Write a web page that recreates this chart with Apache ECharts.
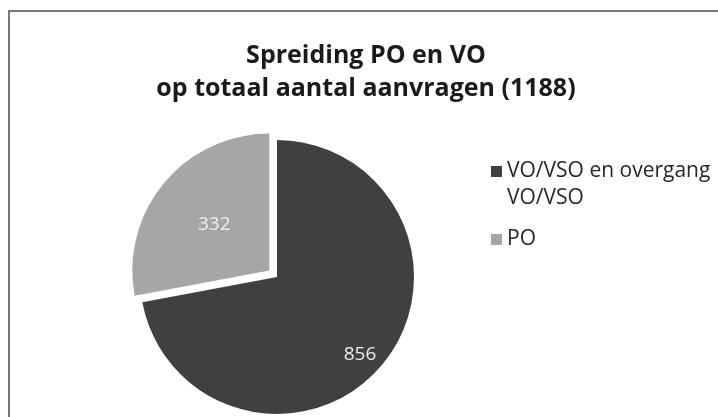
<!DOCTYPE html>
<html>
<head>
    <meta charset="utf-8">
    <script src="https://cdn.jsdelivr.net/npm/echarts@6/dist/echarts.min.js"></script>
    <style>
        html, body { margin: 0; padding: 0; background: #fff; }
    </style>
</head>
<body>
	<div id="main" style="width: 718px; height: 417px;"></div>
	<script type="text/javascript">
		// data
		var categories = ['VO/VSO en overgang\nVO/VSO', 'PO']
		var values = [856, 332]
		var sliceColors = ['#404040', '#a6a6a6']
		var titleText = 'Spreiding PO en VO\nop totaal aantal aanvragen (1188)'

		// where Excel put the data labels
		var labelPos = [[360, 355], [180, 208]]

		var pieData = []
		for (var i = 0; i < categories.length; i++) {
			pieData.push({
				name: categories[i],
				value: values[i],
				selected: i == 1,
				itemStyle: { color: sliceColors[i] }
			})
		}

		var myChart = echarts.init(document.getElementById('main'))
		var option = {
			animation: false,
			textStyle: { fontFamily: 'Open Sans' },
			title: {
				text: titleText,
				left: 366,
				top: 39,
				padding: 0,
				textAlign: 'center',
				textStyle: {
					fontFamily: 'Open Sans',
					fontSize: 25,
					fontWeight: 'bold',
					lineHeight: 33,
					color: '#1a1a1a'
				}
			},
			legend: {
				orient: 'vertical',
				left: 491,
				top: 131,
				padding: 0,
				itemWidth: 11,
				itemHeight: 11,
				itemGap: 14,
				icon: 'rect',
				selectedMode: false,
				data: categories,
				// blank line on top so the square sits next to the first line
				formatter: function (name) {
					return name.indexOf('\n') >= 0 ? '\n' + name : name
				},
				textStyle: {
					fontFamily: 'Open Sans',
					fontSize: 21,
					lineHeight: 27,
					color: '#262626'
				}
			},
			graphic: [{
				type: 'rect',
				shape: { x: 9, y: 11, width: 720, height: 420 },
				style: { fill: null, stroke: '#777', lineWidth: 2 },
				silent: true
			}],
			series: [{
				type: 'pie',
				center: [277, 277],
				radius: 137,
				startAngle: 90,
				clockwise: true,
				selectedMode: 'single',
				selectedOffset: 10,
				data: pieData,
				itemStyle: { borderWidth: 0 },
				emphasis: { disabled: true },
				label: {
					show: true,
					position: 'inside',
					formatter: '{c}',
					fontFamily: 'Open Sans',
					fontSize: 19,
					color: '#eeeeee'
				},
				labelLine: { show: false },
				labelLayout: function (params) {
					var p = labelPos[params.dataIndex]
					return { x: p[0], y: p[1], align: 'center', verticalAlign: 'middle' }
				}
			}]
		}
		myChart.setOption(option)
	</script>
</body>
</html>
